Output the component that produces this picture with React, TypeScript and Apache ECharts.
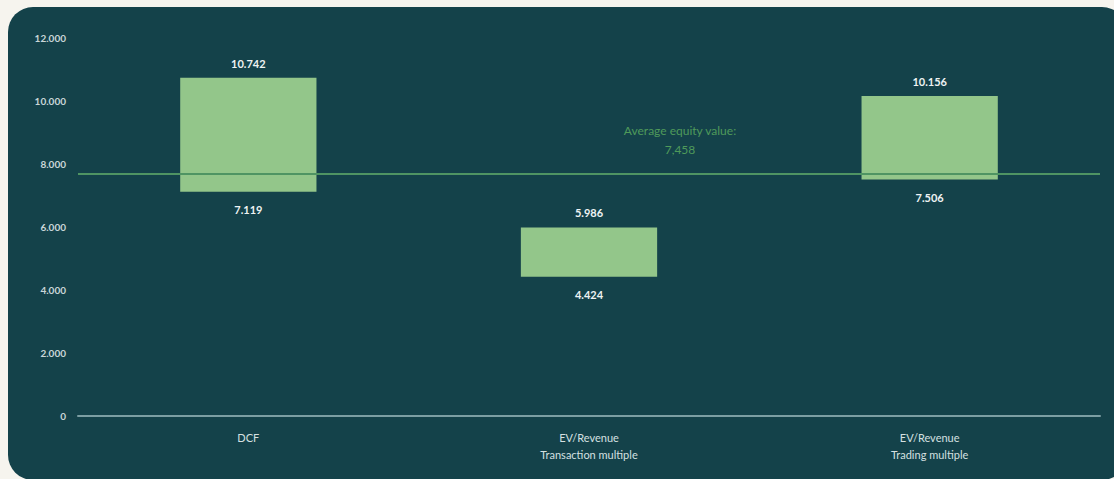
import React, { useEffect, useRef } from "react";
import * as echarts from "echarts";

const categories = ["DCF", "EV/Revenue\nTransaction multiple", "EV/Revenue\nTrading multiple"];
const lowValues = [7119, 4424, 7506];
const highValues = [10742, 5986, 10156];
const averageEquityValue = 7458;
const averageLineLevel = 7680;
const yTicks = { min: 0, max: 12000, interval: 2000 };

const fmtDot = (v: number) => {
  const s = Math.round(v).toString();
  return s.replace(/\B(?=(\d{3})+(?!\d))/g, ".");
};
const fmtComma = (v: number) => Math.round(v).toString().replace(/\B(?=(\d{3})+(?!\d))/g, ",");

export default function App() {
  const ref = useRef<HTMLDivElement>(null);
  useEffect(() => {
    document.body.style.margin = "0";
    if (!ref.current) return;
    const chart = echarts.init(ref.current, null, { renderer: "svg" });
    const font = "Lato, 'Open Sans', sans-serif";
    chart.setOption({
      animation: false,
      backgroundColor: "transparent",
      textStyle: { fontFamily: font },
      grid: { left: 78, right: 14, top: 38, bottom: 63, containLabel: false },
      xAxis: {
        type: "category",
        data: categories,
        axisLine: { lineStyle: { color: "#7c9ea3", width: 2 } },
        axisTick: { show: false },
        axisLabel: { color: "#d5e0e1", fontSize: 11, margin: 13, lineHeight: 17, fontFamily: font },
      },
      yAxis: {
        type: "value",
        min: yTicks.min,
        max: yTicks.max,
        interval: yTicks.interval,
        splitLine: { show: false },
        axisLine: { show: false },
        axisTick: { show: false },
        axisLabel: {
          color: "#c9d6d8",
          fontSize: 10,
          fontWeight: "bold",
          margin: 12,
          fontFamily: font,
          formatter: (v: number) => fmtDot(v),
        },
      },
      series: [
        {
          type: "bar",
          stack: "range",
          data: lowValues,
          barWidth: "40%",
          itemStyle: { color: "transparent" },
          label: {
            show: true,
            position: "insideTop",
            distance: 12,
            color: "#eef3f3",
            fontSize: 11,
            fontWeight: "bold",
            fontFamily: font,
            formatter: (p: any) => fmtDot(lowValues[p.dataIndex]),
          },
          emphasis: { disabled: true },
          silent: true,
        },
        {
          type: "bar",
          stack: "range",
          data: highValues.map((h, i) => h - lowValues[i]),
          barWidth: "40%",
          itemStyle: { color: "#93c68a" },
          label: {
            show: true,
            position: "top",
            distance: 9,
            color: "#eef3f3",
            fontSize: 11,
            fontWeight: "bold",
            fontFamily: font,
            formatter: (p: any) => fmtDot(highValues[p.dataIndex]),
          },
          markLine: {
            symbol: "none",
            silent: true,
            label: { show: false },
            lineStyle: { color: "#4f9463", width: 2, type: "solid" },
            data: [{ yAxis: averageLineLevel }],
          },
          emphasis: { disabled: true },
          silent: true,
        },
      ],
      graphic: [
        {
          type: "text",
          x: 680,
          y: 121,
          style: {
            text: "Average equity value:\n" + fmtComma(averageEquityValue),
            fill: "#4f9a5a",
            fontSize: 12,
            lineHeight: 19,
            fontFamily: font,
            align: "center",
            verticalAlign: "top",
          },
        },
      ],
    });
    return () => chart.dispose();
  }, []);

  return (
    <div style={{ position: "fixed", left: 0, top: 0, width: 1114, height: 479, background: "#f6f4ee", overflow: "hidden" }}>
      <div
        style={{
          position: "absolute",
          left: 8,
          top: 7,
          width: 1119,
          height: 473,
          borderRadius: 25,
          background: "#14424a",
        }}
      />
      <div ref={ref} style={{ position: "absolute", left: 0, top: 0, width: 1114, height: 479 }} />
    </div>
  );
}
